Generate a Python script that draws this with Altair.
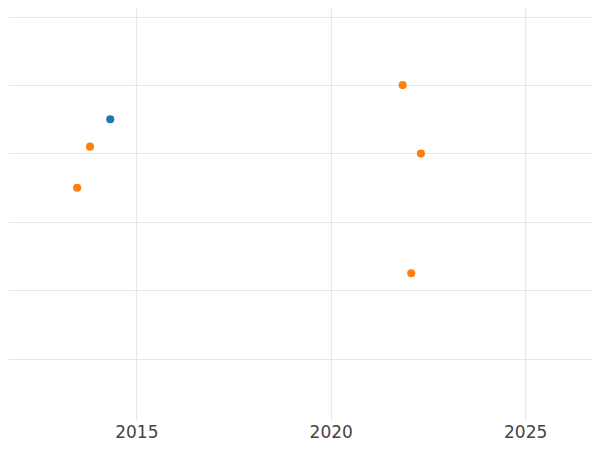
import altair as alt
import pandas as pd

years = [2014.33, 2013.81, 2013.48, 2021.85, 2022.32, 2022.07]
values = [3.5, 3.1, 2.5, 4.0, 3.0, 1.25]
series = ["A", "B", "B", "B", "B", "B"]
x_ticks = [2015, 2020, 2025]
y_ticks = [0, 1, 2, 3, 4, 5]

df = pd.DataFrame({"year": years, "value": values, "series": series})

chart = alt.Chart(df).mark_circle(size=66, opacity=1).encode(
    x=alt.X("year:Q",
            scale=alt.Scale(domain=[2011.70, 2026.72], nice=False, zero=False),
            axis=alt.Axis(values=x_ticks, format="d", title=None, ticks=False,
                          domain=False, labelPadding=4, labelFontSize=17,
                          labelFont="DejaVu Sans", labelColor="#444444",
                          gridColor="#e8e8e8", gridWidth=1.2)),
    y=alt.Y("value:Q",
            scale=alt.Scale(domain=[-0.896, 5.127], nice=False, zero=False),
            axis=alt.Axis(values=y_ticks, title=None, ticks=False, labels=False,
                          domain=False, gridColor="#e8e8e8", gridWidth=1.2)),
    color=alt.Color("series:N",
                    scale=alt.Scale(domain=["A", "B"], range=["#1f77b4", "#ff7f0e"]),
                    legend=None),
).properties(
    width=584, height=412,
    padding={"left": 0, "top": 0, "right": 0, "bottom": 22},
    autosize=alt.AutoSizeParams(type="none"),
).configure_view(stroke=None)

chart.save("out.html", embed_options={"renderer": "svg", "actions": False})
